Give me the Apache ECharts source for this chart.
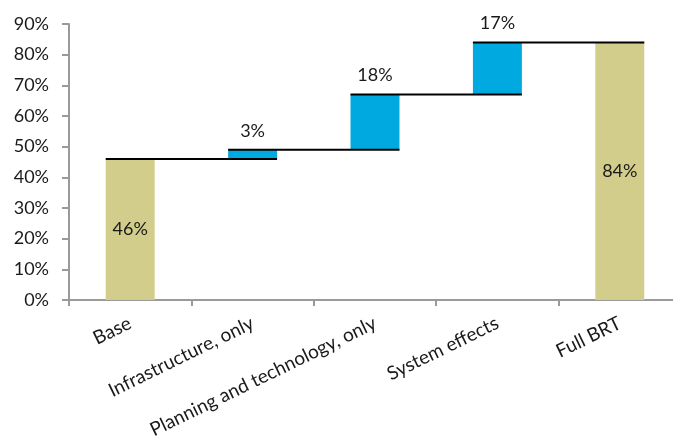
<!DOCTYPE html>
<html>
<head>
<meta charset="utf-8">
<script src="https://cdn.jsdelivr.net/npm/echarts@6/dist/echarts.min.js"></script>
<style>
  html, body { margin: 0; padding: 0; background: #fff; }
  #chart { width: 673px; height: 439px; }
</style>
</head>
<body>
<div id="chart"></div>
<script>
const categories = ["Base", "Infrastructure, only", "Planning and technology, only", "System effects", "Full BRT"];
const steps = [46, 3, 18, 17, 84];
const isTotal = [true, false, false, false, true];
const yTicks = [0, 10, 20, 30, 40, 50, 60, 70, 80, 90];

const fontFamily = "Lato";
const barWidthRatio = 0.4;

// invisible offsets + running levels for the connector lines
const offsets = [];
const levels = [];
let running = 0;
steps.forEach((v, i) => {
  if (isTotal[i]) {
    offsets.push(0);
    running = v;
  } else {
    offsets.push(running);
    running += v;
  }
  levels.push(running);
});
const connectors = levels.slice(0, -1).map((lv, i) => [i, lv]);

const chart = echarts.init(document.getElementById("chart"));
chart.setOption({
  animation: false,
  grid: { left: 69, width: 612, top: 24, bottom: 139, containLabel: false, outerBoundsMode: "none" },
  xAxis: {
    type: "category",
    data: categories,
    boundaryGap: true,
    axisLine: { lineStyle: { color: "#9a9a9a", width: 2 } },
    axisTick: { show: true, length: 6, lineStyle: { color: "#9a9a9a", width: 2 } },
    axisLabel: {
      interval: 0,
      rotate: 26,
      margin: 22,
      color: "#1a1a1a",
      fontSize: 19,
      fontFamily: fontFamily
    }
  },
  yAxis: {
    type: "value",
    min: yTicks[0],
    max: yTicks[yTicks.length - 1],
    interval: 10,
    splitLine: { show: false },
    axisLine: { show: true, lineStyle: { color: "#9a9a9a", width: 2 } },
    axisTick: { show: true, length: 7, lineStyle: { color: "#9a9a9a", width: 2 } },
    axisLabel: {
      formatter: "{value}%",
      margin: 20,
      color: "#1a1a1a",
      fontSize: 18,
      fontFamily: fontFamily
    }
  },
  series: [
    {
      type: "bar",
      stack: "w",
      data: offsets,
      barWidth: (barWidthRatio * 100) + "%",
      itemStyle: { color: "transparent" },
      silent: true
    },
    {
      type: "bar",
      stack: "w",
      barWidth: (barWidthRatio * 100) + "%",
      data: steps.map((v, i) => ({
        value: v,
        itemStyle: { color: isTotal[i] ? "#D3CD8B" : "#00A9E0" },
        label: isTotal[i]
          ? { show: true, position: "inside" }
          : { show: true, position: "top", distance: 10 }
      })),
      label: {
        formatter: "{c}%",
        color: "#1a1a1a",
        fontSize: 18,
        fontFamily: fontFamily
      }
    },
    {
      type: "custom",
      data: connectors,
      z: 5,
      renderItem: function (params, api) {
        const i = api.value(0);
        const lv = api.value(1);
        const p0 = api.coord([i, lv]);
        const p1 = api.coord([i + 1, lv]);
        const half = api.size([1, 0])[0] * barWidthRatio / 2;
        return {
          type: "line",
          shape: { x1: p0[0] - half, y1: p0[1], x2: p1[0] + half, y2: p1[1] },
          style: { stroke: "#000", lineWidth: 2 }
        };
      }
    }
  ]
});
</script>
</body>
</html>
